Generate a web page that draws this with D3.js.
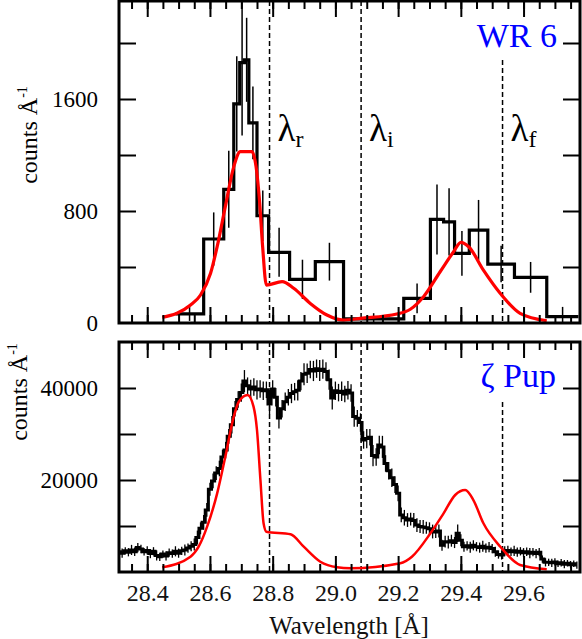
<!DOCTYPE html>
<html>
<head>
<meta charset="utf-8">
<script src="https://cdn.jsdelivr.net/npm/d3@7"></script>
<style>
body { margin: 0; background: #fff; }
text { font-family: "Liberation Serif", "Times New Roman", serif; }
</style>
</head>
<body>
<svg id="chart" width="582" height="639"></svg>
<script>
// ---- WR 6 : binned spectrum (bin edges in Angstrom) ----
const wrEdges = [28.49, 28.58, 28.644, 28.676, 28.695, 28.71, 28.724, 28.75, 28.787, 28.854, 28.936,
                 29.026, 29.218, 29.303, 29.345, 29.38, 29.427, 29.486, 29.571, 29.674, 29.775];
const wrCounts = [65, 600, 955, 1565, 1860, 1880, 1430, 766, 505, 312, 438,
                  30, 176, 740, 723, 498, 664, 421, 326, 45];
const wrErr = [50, 190, 275, 340, 520, 300, 260, 180, 175, 140, 135,
               40, 107, 250, 240, 160, 215, 130, 110, 70];

// WR 6 model (red)
const wrModelWl = [28.448, 28.538, 28.570, 28.602, 28.623, 28.649, 28.676, 28.697, 28.734, 28.747, 28.758,
                   28.768, 28.780, 28.830, 28.867, 28.920, 28.973, 29.026, 29.080, 29.196, 29.239, 29.281,
                   29.334, 29.377, 29.400, 29.425, 29.472, 29.526, 29.589, 29.674];
const wrModelVal = [40, 128, 200, 355, 545, 831, 1117, 1224, 1224, 1117, 876,
                    545, 271, 295, 248, 140, 57, 21, 33, 64, 98, 188,
                    366, 509, 576, 545, 378, 211, 69, 16];

// ---- zeta Pup : fine spectrum, 0.01 A bins starting at 28.31 ----
const zpStart = 28.31, zpStep = 0.01;
const zpFlux = [
  4400, 4100, 4600, 4300, 4800, 4400, 5300, 5000, 4400, 4700,
  4000, 4500, 3600, 3300, 3900, 3500, 4200, 4000, 4500, 4100,
  4600, 4800, 5200, 5600, 6000,
  7500, 9500, 10800, 13500, 18000, 19800, 21500, 22500, 25000, 26500, 29500, 32000, 35500, 37500, 39000,
  41500, 40500, 39800, 40200, 39600, 39800, 39400, 39600, 36500, 39800,
  38000, 33500, 35500, 37000, 38000, 38800, 39200, 39500, 41500, 43000,
  43200, 44000, 43700, 44200, 43800, 44100, 43600, 41800, 37800,
  39400, 39000, 39300, 38700, 39500, 38900, 33800, 33400, 32500, 28700,
  29000, 29300, 25300, 25000, 27600, 27200, 23600, 22000, 20500, 19000, 17100,
  12400, 11800, 11300, 11500, 11200, 10200, 9900, 9800, 9600, 9400,
  8800, 8700, 8900, 5800, 6600, 6500, 6800, 6400, 8400, 6900,
  5500, 5700, 5400, 5800, 5500, 5300, 5600, 5200, 5400, 5100,
  4400, 3800, 3700, 4500, 4700, 4400, 4600, 4300, 4500, 4200,
  4400, 4100, 4300, 4000, 4300, 2800, 2100, 2100, 2000, 2200,
  1800, 2000, 1700, 1900, 1600, 1800, 1500
];
const zpErr = [
  900, 1000, 800, 900, 1100, 900, 1000, 900, 800, 900,
  1000, 900, 1100, 900, 800, 1000, 900, 900, 1100, 1000,
  900, 1200, 1000, 1100, 1300,
  1500, 1300, 1600, 1500, 1400, 1600, 1500, 1700, 1600, 1800, 1600, 1900, 1700, 1800, 2000,
  2400, 1800, 2000, 1900, 2100, 1900, 2000, 1800, 2200, 1900,
  2000, 2300, 1900, 2000, 1800, 2100, 1900, 2200, 2000, 2400,
  2100, 1900, 2200, 2000, 2300, 2100, 2000, 2200, 2500,
  2000, 1900, 2100, 1800, 2000, 1900, 2200, 1800, 2000, 1900,
  2100, 1800, 2300, 1900, 2000, 2400, 1800, 1900, 2000, 1800, 1700,
  1600, 1700, 1500, 1400, 1600, 1500, 1400, 1500, 1300, 1400,
  1500, 1300, 1400, 1200, 1300, 1400, 1300, 1200, 1900, 1300,
  1100, 1000, 1200, 1100, 1000, 1100, 1200, 1000, 1100, 1000,
  1100, 900, 1000, 1100, 1000, 900, 1100, 1000, 900, 1000,
  900, 1100, 900, 1000, 900, 800, 900, 800, 900, 800,
  700, 800, 900, 700, 800, 700, 800
];

// zeta Pup model (red)
const zpModelWl = [28.448, 28.538, 28.564, 28.591, 28.623, 28.649, 28.676, 28.692, 28.720, 28.739, 28.750,
                   28.761, 28.771, 28.780, 28.857, 28.899, 28.952, 29.005, 29.048, 29.207, 29.244, 29.303,
                   29.345, 29.382, 29.414, 29.440, 29.472, 29.526, 29.589, 29.674];
const zpModelVal = [1020, 3330, 5500, 9850, 17100, 25070, 33760, 37020, 38480, 35940, 30870,
                    20000, 10590, 8760, 8200, 5500, 2240, 1020, 800, 1900, 3330, 8410,
                    12760, 16740, 17830, 15650, 10590, 5500, 1520, 590];

// line positions and labels
const lambdaWl = [28.79, 29.082, 29.533];
const lambdaSub = ["r", "i", "f"];
const yTopTicks = [400, 800, 1200, 1600, 2000];
const yTopLabels = [0, 800, 1600];
const yBotTicks = [10000, 20000, 30000, 40000];
const yBotLabels = [20000, 40000];
const xLabels = [28.4, 28.6, 28.8, 29.0, 29.2, 29.4, 29.6];

const svg = d3.select("#chart");

const x = d3.scaleLinear().domain([28.31, 29.78]).range([119, 580]);
const yTop = d3.scaleLinear().domain([0, 2300]).range([323, 1]);
const yBot = d3.scaleLinear().domain([0, 50000]).range([572, 342]);

const L = 119, R = 580;

function drawFrame(y, yTicks, id) {
  const top = y.range()[1], bottom = y.range()[0];
  svg.append("clipPath").attr("id", id)
    .append("rect").attr("x", L).attr("y", top).attr("width", R - L).attr("height", bottom - top);

  const axes = [
    [d3.axisTop(x).tickValues(x.ticks(30)).tickSize(-8), `translate(0,${top})`],
    [d3.axisTop(x).tickValues(x.ticks(7)).tickSize(-16), `translate(0,${top})`],
    [d3.axisBottom(x).tickValues(x.ticks(30)).tickSize(-8), `translate(0,${bottom})`],
    [d3.axisBottom(x).tickValues(x.ticks(7)).tickSize(-16), `translate(0,${bottom})`],
    [d3.axisLeft(y).tickValues(yTicks).tickSize(-17), `translate(${L},0)`],
    [d3.axisRight(y).tickValues(yTicks).tickSize(-17), `translate(${R},0)`]
  ];
  axes.forEach(([ax, tr]) => {
    svg.append("g").attr("transform", tr)
      .call(ax.tickFormat(""))
      .call(g => g.select(".domain").remove())
      .selectAll("line").attr("stroke", "#000").attr("stroke-width", 2);
  });

  svg.append("rect")
    .attr("x", L).attr("y", top).attr("width", R - L).attr("height", bottom - top)
    .attr("fill", "none").attr("stroke", "#000").attr("stroke-width", 3);
}

function dashed(y, startF) {
  lambdaWl.forEach((w, i) => {
    svg.append("line")
      .attr("x1", x(w)).attr("x2", x(w))
      .attr("y1", i === 2 ? startF : y.range()[1]).attr("y2", y.range()[0])
      .attr("stroke", "#000").attr("stroke-width", 1.5).attr("stroke-dasharray", "5,3");
  });
}

// ---------------- top panel : WR 6 ----------------
dashed(yTop, 60);

const gTop = svg.append("g").attr("clip-path", "url(#clipTop)");

const wrBins = wrCounts.map((c, i) => ({ x0: wrEdges[i], x1: wrEdges[i + 1], c: c, e: wrErr[i] }));

gTop.selectAll("line.err")
  .data(wrBins)
  .join("line")
  .attr("class", "err")
  .attr("x1", d => x((d.x0 + d.x1) / 2)).attr("x2", d => x((d.x0 + d.x1) / 2))
  .attr("y1", d => yTop(d.c - d.e)).attr("y2", d => yTop(d.c + d.e))
  .attr("stroke", "#000").attr("stroke-width", 1.5);

gTop.append("path")
  .datum(wrBins.flatMap(d => [[d.x0, d.c], [d.x1, d.c]]))
  .attr("d", d3.line().x(d => x(d[0])).y(d => yTop(d[1])))
  .attr("fill", "none").attr("stroke", "#000").attr("stroke-width", 3.2)
  .attr("stroke-linejoin", "miter");

gTop.append("path")
  .datum(wrModelWl.map((w, i) => [w, wrModelVal[i]]))
  .attr("d", d3.line().x(d => x(d[0])).y(d => yTop(d[1])).curve(d3.curveMonotoneX))
  .attr("fill", "none").attr("stroke", "#ff0000").attr("stroke-width", 3.2);

drawFrame(yTop, yTopTicks, "clipTop");

// ---------------- bottom panel : zeta Pup ----------------
dashed(yBot, 402);

const gBot = svg.append("g").attr("clip-path", "url(#clipBot)");
const zp = zpFlux.map((v, i) => ({ w: zpStart + i * zpStep, v: v, e: zpErr[i] }));

gBot.selectAll("line.err")
  .data(zp)
  .join("line")
  .attr("class", "err")
  .attr("x1", d => x(d.w)).attr("x2", d => x(d.w))
  .attr("y1", d => yBot(d.v - d.e)).attr("y2", d => yBot(d.v + d.e))
  .attr("stroke", "#000").attr("stroke-width", 1.3);

gBot.append("path")
  .datum(zp)
  .attr("d", d3.line().x(d => x(d.w)).y(d => yBot(d.v)).curve(d3.curveStep))
  .attr("fill", "none").attr("stroke", "#000").attr("stroke-width", 3);

gBot.append("path")
  .datum(zpModelWl.map((w, i) => [w, zpModelVal[i]]))
  .attr("d", d3.line().x(d => x(d[0])).y(d => yBot(d[1])).curve(d3.curveMonotoneX))
  .attr("fill", "none").attr("stroke", "#ff0000").attr("stroke-width", 2.5);

drawFrame(yBot, yBotTicks, "clipBot");

// ---------------- labels ----------------
function yLabels(y, vals) {
  svg.append("g").attr("transform", `translate(${L},0)`)
    .call(d3.axisLeft(y).tickValues(vals).tickSize(0).tickPadding(21).tickFormat(d3.format("d")))
    .call(g => g.select(".domain").remove())
    .selectAll("text")
    .attr("font-family", "Liberation Serif, serif").attr("font-size", 23).attr("fill", "#000");
}
yLabels(yTop, yTopLabels);
yLabels(yBot, yBotLabels);

svg.append("g").attr("transform", "translate(0,572)")
  .call(d3.axisBottom(x).tickValues(xLabels).tickSize(0).tickPadding(12).tickFormat(d3.format(".1f")))
  .call(g => g.select(".domain").remove())
  .selectAll("text")
  .attr("font-family", "Liberation Serif, serif").attr("font-size", 24).attr("fill", "#111");

svg.append("text")
  .attr("x", 349).attr("y", 634).attr("text-anchor", "middle")
  .attr("font-size", 25).attr("fill", "#111")
  .text("Wavelength [Å]");

function countsLabel(cx, cy) {
  const t = svg.append("text")
    .attr("transform", `translate(${cx},${cy}) rotate(-90)`)
    .attr("text-anchor", "middle").attr("font-size", 24).attr("fill", "#000");
  t.append("tspan").text("counts Å");
  t.append("tspan").attr("font-size", 14).attr("dy", -10).text("-1");
}
countsLabel(37, 135);
countsLabel(27, 392);

svg.append("text").attr("x", 557).attr("y", 47).attr("text-anchor", "end")
  .attr("font-size", 34).attr("fill", "#0000ff").text("WR 6");
svg.append("text").attr("x", 556).attr("y", 387).attr("text-anchor", "end")
  .attr("font-size", 34).attr("fill", "#0000ff").text("ζ Pup");

lambdaWl.forEach((w, i) => {
  const t = svg.append("text").attr("x", x(w) + 8).attr("y", 141)
    .attr("font-size", 37).attr("fill", "#000");
  t.append("tspan").text("λ");
  t.append("tspan").attr("font-size", 24).attr("dy", 6).text(lambdaSub[i]);
});
</script>
</body>
</html>
